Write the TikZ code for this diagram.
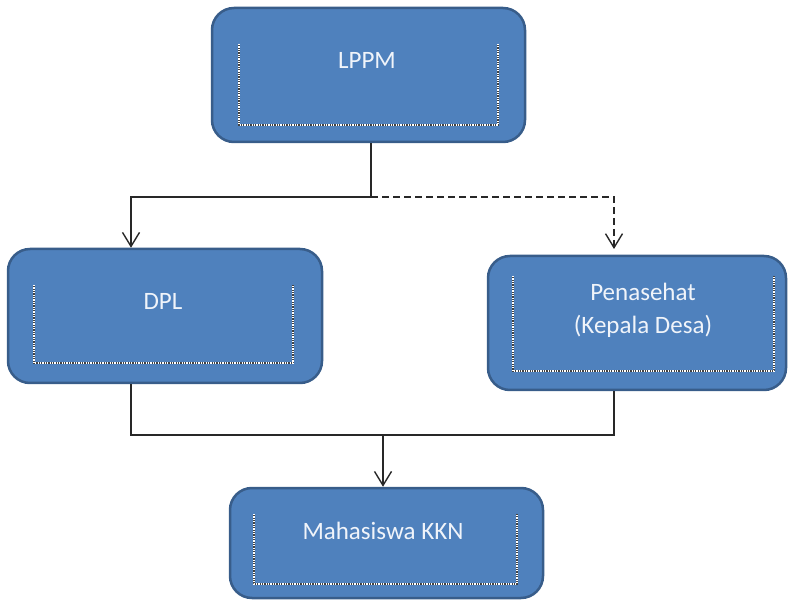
\documentclass[tikz,border=0pt]{standalone}
\usepackage{fontspec}
\setmainfont{Carlito}
\usetikzlibrary{arrows.meta}
\definecolor{boxfill}{RGB}{79,129,189}
\definecolor{boxedge}{RGB}{56,93,138}
\definecolor{lineclr}{RGB}{40,40,40}
\definecolor{txt}{RGB}{240,244,250}
\tikzset{
  box/.style={draw=boxedge, line width=2.5pt, fill=boxfill, rounded corners=22pt, inner sep=0pt},
  lbl/.style={text=txt, font=\fontsize{25}{30}\selectfont, anchor=base, inner sep=0pt},
  conn/.style={draw=lineclr, line width=1.4pt},
  tip/.style={-{Straight Barb[length=14pt,width=17pt,line width=1.4pt]}},
  innerdark/.style={draw=black!75, line width=1.3pt},
  innerdots/.style={draw=white, line width=1.3pt, dash pattern=on 1.2pt off 1.2pt}
}
\begin{document}
\begin{tikzpicture}[x=1pt,y=-1pt]
\useasboundingbox (0,0) rectangle (790,601);
% boxes
\node[box, minimum width=313pt, minimum height=134pt] (lppm) at (368.5,75) {};
\node[box, minimum width=314pt, minimum height=134pt] (dpl) at (165,316) {};
\node[box, minimum width=298pt, minimum height=134pt] (pen) at (637,323) {};
\node[box, minimum width=313pt, minimum height=110pt] (mhs) at (386.5,543) {};
% inner dotted frames (left, bottom, right)
\foreach \l/\r/\t/\b in {239/498/44/125, 34/293/285/363, 513/774/276/371, 254/517/514/584}{
  \draw[innerdark] (\l,\t) -- (\l,\b) -- (\r,\b) -- (\r,\t);
  \draw[innerdots] (\l,\t) -- (\l,\b) -- (\r,\b) -- (\r,\t);
}
% labels
\node[lbl] (lppmt) at (367,69) {LPPM};
\node[lbl] (dplt) at (163,310) {DPL};
\node[lbl] (pent1) at (643,301) {Penasehat};
\node[lbl] (pent2) at (643,334) {(Kepala Desa)};
\node[lbl] (mhst) at (383,539) {Mahasiswa KKN};
% connector coordinates
\coordinate (j1) at (371,197);
\coordinate (xl) at (131,0);
\coordinate (xr) at (614,0);
\coordinate (xm) at (383,0);
\coordinate (rend) at (614,249);
\coordinate (j2) at (383,435);
% top connectors
\draw[conn, tip] (lppm.south -| j1) -- (j1) -| (xl |- dpl.north);
\draw[conn, tip, dash pattern=on 7pt off 4pt] (j1) -| (rend);
% bottom connectors
\draw[conn] (dpl.south -| xl) |- (j2) -| (pen.south -| xr);
\draw[conn, tip] (j2) -- (mhs.north -| xm);
\end{tikzpicture}
\end{document}
